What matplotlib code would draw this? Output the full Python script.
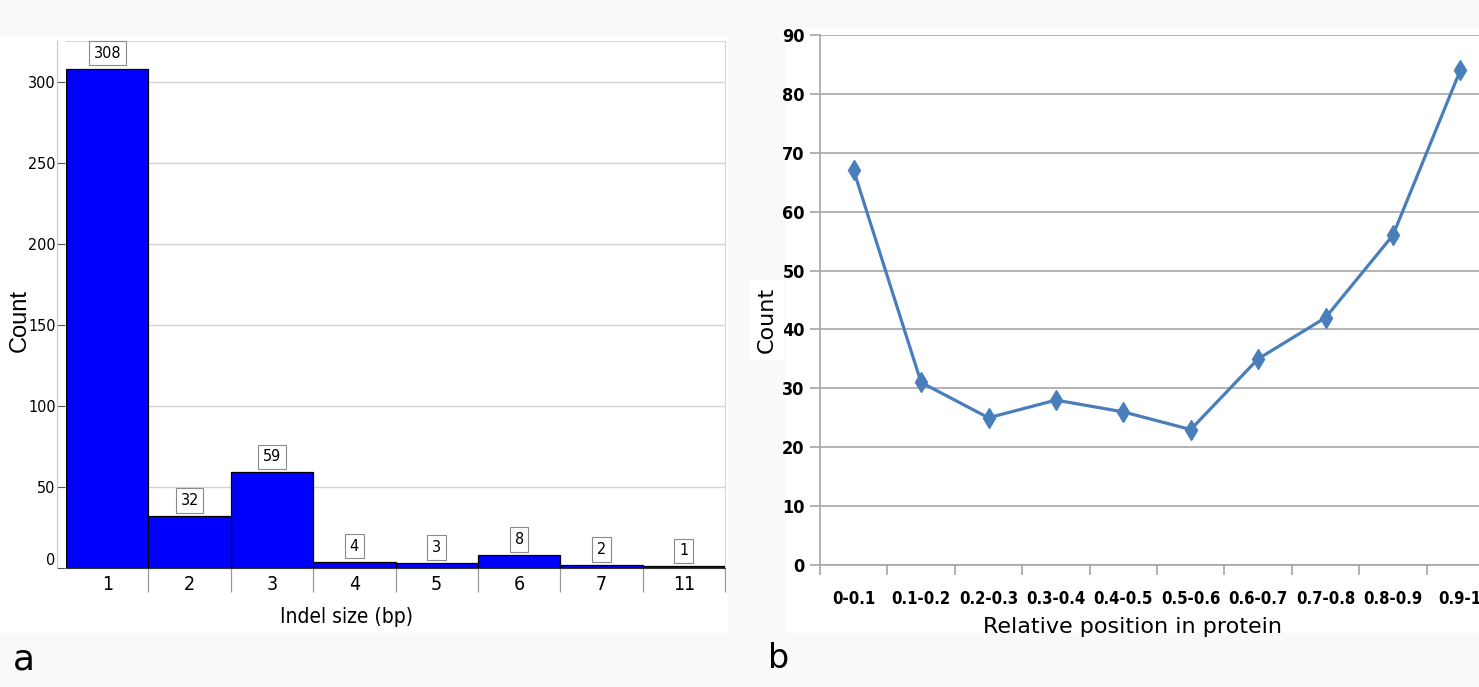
import matplotlib.pyplot as plt
import numpy as np
from matplotlib.patches import Rectangle
from matplotlib import font_manager as fm
import matplotlib.transforms as mt

# panel a: indel sizes
indel_sizes = ["1", "2", "3", "4", "5", "6", "7", "11"]
indel_counts = [308, 32, 59, 4, 3, 8, 2, 1]

# panel b: relative position
positions = ["0-0.1", "0.1-0.2", "0.2-0.3", "0.3-0.4", "0.4-0.5",
             "0.5-0.6", "0.6-0.7", "0.7-0.8", "0.8-0.9", "0.9-1"]
position_counts = [67, 31, 25, 28, 26, 23, 35, 42, 56, 84]

W, H = 1479, 687


def find_narrow(bold):
    # look for an installed narrow / condensed face
    prefs = ['liberation sans narrow', 'arial narrow', 'dejavu sans',
             'roboto condensed', 'open sans condensed', 'noto sans']
    best, best_rank = None, 99
    for f in fm.fontManager.ttflist:
        tag = (f.name + ' ' + str(f.stretch) + ' ' + f.fname).lower()
        if not ('narrow' in tag or 'condensed' in tag):
            continue
        if 'extra' in tag or 'ultra' in tag or 'semi' in tag:
            continue
        if f.style != 'normal':
            continue
        w = f.weight
        if not isinstance(w, (int, float)):
            w = 700 if 'bold' in str(w) else 400
        if bold != (w >= 600) or (not bold and w < 350):
            continue
        rank = next((i for i, p in enumerate(prefs) if p in f.name.lower()), 50)
        if rank < best_rank:
            best, best_rank = f.fname, rank
    return best


nar_path = find_narrow(False)
narb_path = find_narrow(True)


def nfont(size, bold=False):
    path = narb_path if bold else nar_path
    if path:
        return fm.FontProperties(fname=path, size=size)
    return fm.FontProperties(family='DejaVu Sans', size=size * 0.82,
                             weight='bold' if bold else 'normal')


def px_axes(fig, x0, y0, x1, y1):
    # pixel box (top-left origin) -> figure fraction axes
    return fig.add_axes([x0 / W, (H - y1) / H, (x1 - x0) / W, (y1 - y0) / H])


fig = plt.figure(figsize=(W / 100, H / 100), dpi=100, facecolor='#f9f9f9')

# white panel backgrounds
fig.patches.append(Rectangle((0, (H - 633) / H), 728 / W, (633 - 36) / H,
                             transform=fig.transFigure, facecolor='white',
                             edgecolor='none', zorder=-5))
fig.patches.append(Rectangle((785 / W, (H - 633) / H), (W - 785) / W, (633 - 28) / H,
                             transform=fig.transFigure, facecolor='white',
                             edgecolor='none', zorder=-5))

# ---------------- panel a ----------------
ax1 = px_axes(fig, 66, 41, 725, 568)
ax1.set_facecolor('none')
xs = np.arange(len(indel_sizes))
ax1.bar(xs, indel_counts, width=1.0, color='#0000ff', edgecolor='black',
        linewidth=0.9, zorder=3)
ax1.set_xlim(-0.5, len(indel_sizes) - 0.5)
ax1.set_ylim(0, 325)
ax1.set_yticks(np.arange(0, 301, 50))
ax1.yaxis.grid(True, color='#d4d4d4', linewidth=1)
ax1.set_axisbelow(True)
for s in ['top', 'right']:
    ax1.spines[s].set_color('#d8d8d8')
ax1.spines['left'].set_position(('outward', 6.5))
ax1.spines['left'].set_color('#c8c8c8')
ax1.spines['bottom'].set_color('#333333')
ax1.tick_params(axis='y', direction='in', length=6, width=0.8, color='#555555',
                pad=1)
for lab in ax1.get_yticklabels():
    lab.set_fontproperties(nfont(11.5))
# the zero label sits a little above its tick in the original
zero_lab = ax1.yaxis.get_major_ticks()[0].label1
zero_lab.set_transform(zero_lab.get_transform() +
                       mt.ScaledTranslation(0, 0.09, fig.dpi_scale_trans))
ax1.set_xticks(xs)
ax1.set_xticklabels(indel_sizes, fontproperties=nfont(14))
ax1.set_xticks(np.arange(0.5, len(indel_sizes), 1.0), minor=True)
ax1.tick_params(axis='x', which='major', length=0, pad=5)
ax1.tick_params(axis='x', which='minor', length=17, width=0.9, color='#999999')
ax1.set_xlabel("Indel size (bp)", fontproperties=nfont(15))
ax1.xaxis.set_label_coords((346 - 66) / 659, -(617 - 568) / 527)
ax1.xaxis.label.set_va('center')
ax1.set_ylabel("Count", family=['Liberation Sans', 'DejaVu Sans'], fontsize=17)
ax1.yaxis.set_label_coords((20 - 66) / 659, (568 - 320) / 527)
ax1.yaxis.label.set_va('center')
for x, v in zip(xs, indel_counts):
    ax1.annotate(str(v), (x, v), xytext=(0, 8), textcoords='offset pixels',
                 ha='center', va='bottom', fontproperties=nfont(11.5),
                 bbox=dict(boxstyle='square,pad=0.3', facecolor='white',
                           edgecolor='#8a8a8a', linewidth=0.8), zorder=4)

# ---------------- panel b ----------------
ax2 = px_axes(fig, 820, 35, 1494, 565)
ax2.set_facecolor('none')
ps = np.arange(len(positions))
ax2.plot(ps, position_counts, color='#4a7ebb', linewidth=2.3, marker='d',
         markersize=10, zorder=3)
ax2.set_xlim(-0.5, len(positions) - 0.5)
ax2.set_ylim(0, 90)
ax2.set_yticks(np.arange(0, 91, 10))
ax2.yaxis.grid(True, color='#a6a6a6', linewidth=1.2)
ax2.set_axisbelow(True)
for s in ['top', 'right']:
    ax2.spines[s].set_visible(False)
ax2.spines['left'].set_color('#a6a6a6')
ax2.spines['bottom'].set_color('#a6a6a6')
ax2.spines['left'].set_linewidth(1.2)
ax2.spines['bottom'].set_linewidth(1.2)
ax2.tick_params(axis='y', length=7, width=1.2, color='#a6a6a6', pad=4)
for lab in ax2.get_yticklabels():
    lab.set_fontproperties(nfont(13, bold=True))
ax2.set_xticks(ps)
ax2.set_xticklabels(positions, fontproperties=nfont(12, bold=True))
ax2.set_xticks(np.arange(-0.5, len(positions), 1.0), minor=True)
ax2.tick_params(axis='x', which='major', length=0, pad=18)
ax2.tick_params(axis='x', which='minor', length=7, width=1.2, color='#a6a6a6')
ax2.set_xlabel("Relative position in protein", family='DejaVu Sans', fontsize=16)
ax2.xaxis.set_label_coords((1132 - 820) / 674, -(627 - 565) / 530)
ax2.xaxis.label.set_va('center')
ax2.set_ylabel("Count", family='DejaVu Sans', fontsize=16,
               bbox=dict(facecolor='white', edgecolor='none', pad=5))
ax2.yaxis.set_label_coords((767 - 820) / 674, (565 - 320) / 530)
ax2.yaxis.label.set_va('center')

# panel letters
fig.text(13 / W, (H - 660) / H, "a", fontsize=26, va='center', ha='left',
         family='DejaVu Sans')
fig.text(768 / W, (H - 658) / H, "b", fontsize=24, va='center', ha='left',
         family='DejaVu Sans')

fig.savefig('out.png', dpi=100, facecolor=fig.get_facecolor())
